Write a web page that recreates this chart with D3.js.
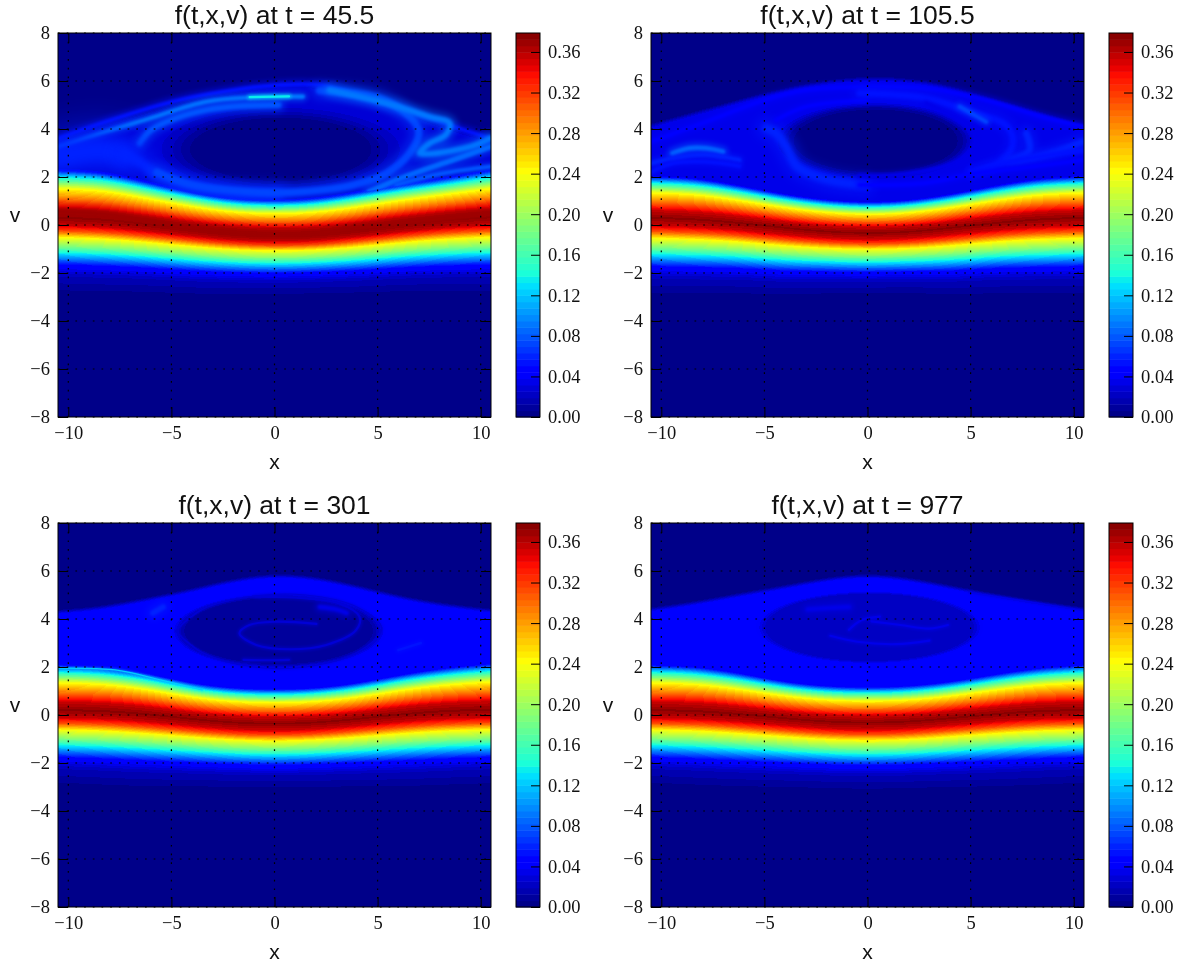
<!DOCTYPE html>
<html>
<head>
<meta charset="utf-8">
<script src="https://cdnjs.cloudflare.com/ajax/libs/d3/7.8.5/d3.min.js"></script>
<style>
body { margin: 0; background: #fff; }
#chart { position: relative; width: 1188px; height: 965px; overflow: hidden; }
canvas { position: absolute; }
svg { position: absolute; left: 0; top: 0; }
.tick text { font-family: "Liberation Serif", serif; font-size: 18.5px; fill: #111; }
.title { font-family: "Liberation Sans", sans-serif; font-size: 26.5px; fill: #111; text-anchor: middle; }
.label { font-family: "Liberation Sans", sans-serif; font-size: 21px; fill: #111; text-anchor: middle; }
</style>
</head>
<body>
<div id="chart"></div>
<script>
// values, v positions of each structure at every xGrid column
const xGrid = [-10.47, -8.38, -6.28, -4.19, -2.09, 0, 2.09, 4.19, 6.28, 8.38, 10.47];
const xTicks = [-10, -5, 0, 5, 10];
const vTicks = [-8, -6, -4, -2, 0, 2, 4, 6, 8];
const cbTicks = [0, 0.04, 0.08, 0.12, 0.16, 0.20, 0.24, 0.28, 0.32, 0.36];
const times = ["45.5", "105.5", "301", "977"];

// cross section of the hot band, u = distance from ridge / distance to the cyan edge
const upperU = [0, 0.2, 0.42, 0.68, 0.8, 0.95, 1.08, 1.2];
const upperF = [0.375, 0.355, 0.30, 0.24, 0.19, 0.13, 0.06, 0];
const lowerU = [0, 0.2, 0.37, 0.55, 0.78, 1, 1.3, 1.6, 2.05, 2.4];
const lowerF = [0.375, 0.355, 0.31, 0.24, 0.19, 0.13, 0.05, 0.02, 0.005, 0];

const ridge45 = [0.3, 0.25, 0.05, -0.15, -0.35, -0.42, -0.38, -0.2, 0.03, 0.22, 0.32];
const ridge105 = [0.3, 0.25, 0.1, -0.1, -0.28, -0.35, -0.3, -0.1, 0.1, 0.25, 0.3];
const ridge301 = [0.2, 0.18, 0.05, -0.15, -0.32, -0.38, -0.32, -0.15, 0.05, 0.18, 0.22];
const ridge977 = [0.2, 0.18, 0.05, -0.12, -0.28, -0.33, -0.28, -0.12, 0.05, 0.18, 0.2];

const top45 = [2.1, 2.05, 1.65, 1.25, 0.95, 0.88, 0.95, 1.25, 1.55, 1.8, 2.1];
const top105 = [1.85, 1.8, 1.5, 1.15, 0.9, 0.8, 0.88, 1.15, 1.5, 1.78, 1.85];
const top301 = [1.9, 1.85, 1.6, 1.2, 0.97, 0.92, 0.97, 1.2, 1.55, 1.8, 1.95];
const top977 = [1.9, 1.85, 1.6, 1.25, 1.05, 1.0, 1.05, 1.25, 1.55, 1.8, 1.9];

const bottom45 = [-1.2, -1.25, -1.35, -1.5, -1.6, -1.65, -1.6, -1.5, -1.35, -1.25, -1.2];
const bottom105 = [-1.25, -1.3, -1.35, -1.5, -1.55, -1.6, -1.55, -1.5, -1.35, -1.3, -1.25];
const bottom301 = [-1.3, -1.35, -1.45, -1.55, -1.65, -1.7, -1.65, -1.55, -1.45, -1.35, -1.3];
const bottom977 = [-1.3, -1.35, -1.45, -1.55, -1.65, -1.7, -1.65, -1.55, -1.45, -1.35, -1.3];

// upper edge of the trapped region
const edge45 = [3.7, 4.3, 4.8, 5.3, 5.7, 6.0, 6.0, 5.6, 4.9, 4.2, 3.7];
const edge105 = [4.3, 4.8, 5.3, 5.75, 6.1, 6.3, 6.2, 5.85, 5.3, 4.8, 4.25];
const edge301 = [4.45, 4.6, 4.95, 5.3, 5.75, 6.0, 5.85, 5.45, 5.0, 4.7, 4.5];
const edge977 = [4.55, 4.8, 5.15, 5.45, 5.8, 6.0, 5.8, 5.45, 5.1, 4.8, 4.55];

// the depleted hole in the middle of each panel, an oval
const holeCx = [0.3, 0.4, 0.2, 0.1];
const holeCv = [3.15, 3.5, 3.5, 3.65];
const holeRx = [6.0, 5.0, 5.3, 5.6];
const holeRy = [1.8, 1.65, 1.6, 1.55];
const holeSoft = [0.35, 0.22, 0.15, 0.12];

const plateau = [0.026, 0.035, 0.045, 0.045];
const holeLevel = [0.003, 0.006, 0.012, 0.023];

// thin filaments: [x, v] points, their f value and their thickness in v units
const strands45 = [
    [[-10.47, 3.61], [-8.17, 4.3], [-4.93, 5.14], [-2.5, 5.55], [0.2, 5.83], [2.18, 5.83], [4.61, 5.28], [6.55, 4.72], [8.66, 4.1], [10.47, 3.61]],
    [[-10.47, 3.24], [-8.17, 3.89], [-6.2, 4.4], [-3.3, 5.14], [-1.0, 5.32], [0.2, 5.35], [1.38, 5.35]],
    [[-1.2, 5.33], [0.7, 5.36]],
    [[-6.55, 3.40], [-6.0, 3.95], [-4.93, 4.4], [-3.3, 4.79], [-1.7, 4.95], [0.2, 5.0]],
    [[-10.47, 2.85], [-8.5, 3.1], [-7.3, 2.9]],
    [[-7.3, 2.95], [-6.5, 2.6], [-5.7, 2.1], [-4.1, 1.6], [-1.7, 1.3], [0.2, 1.3]],
    [[2.18, 5.6], [5.1, 5.28], [6.55, 4.51], [7.0, 3.89], [6.55, 2.99], [5.42, 2.15], [3.8, 1.67], [1.38, 1.39], [-0.24, 1.35], [-4.1, 1.7], [-5.7, 2.2]],
    [[2.67, 5.62], [5.42, 5.07], [7.52, 4.51], [8.5, 4.24], [8.3, 3.75], [7.52, 3.4], [7.04, 2.99], [9.5, 3.26], [10.47, 3.61]],
    [[4.61, 1.39], [6.55, 2.08], [8.66, 2.71], [10.47, 3.26]],
    [[5.9, 1.67], [8.17, 2.15], [10.47, 2.43]],
    [[-10.47, 0.55], [-8.4, 0.45], [-6.3, 0.2], [-4.2, -0.1], [-2.1, -0.3], [0, -0.4], [2.1, -0.35], [4.2, -0.1], [6.3, 0.1], [8.4, 0.3], [10.47, 0.5]]
];
const strandF45 = [0.055, 0.09, 0.135, 0.08, 0.06, 0.058, 0.07, 0.092, 0.088, 0.078, 0.372];
const strandW45 = [0.17, 0.17, 0.1, 0.24, 1.0, 0.4, 0.3, 0.24, 0.22, 0.16, 0.25];

const strands105 = [
    [[-10.5, 3.47], [-7.83, 4.3], [-5.03, 5.2], [-2.98, 5.62], [-0.07, 5.76], [2.85, 5.7], [5.76, 5.2], [8.51, 4.5], [10.47, 4.1]],
    [[-9.45, 2.98], [-8.64, 3.19], [-7.83, 3.19], [-7.02, 3.05]],
    [[-10.5, 2.57], [-9.45, 2.78], [-7.83, 2.92], [-6.21, 2.71]],
    [[-10.5, 2.2], [-9.45, 2.57], [-7.83, 2.63], [-6.21, 2.45]],
    [[-4.9, 4.03], [-4.43, 3.82], [-3.95, 3.26], [-3.4, 2.43], [-1.9, 1.88], [-0.07, 1.67]],
    [[-4.43, 4.37], [-2.98, 4.93], [-0.07, 5.2]],
    [[-0.39, 5.49], [2.85, 5.28], [4.95, 4.72], [6.7, 4.17], [7.06, 3.47], [6.57, 2.71], [5.1, 2.17]],
    [[4.47, 4.93], [5.76, 4.3]],
    [[2.85, 5.07], [4.8, 4.1], [5.2, 3.54], [4.47, 2.71], [2.0, 2.15], [-0.39, 2.04]],
    [[7.7, 3.82], [7.85, 3.1], [6.8, 2.64], [8.6, 2.92], [10.47, 3.47]],
    [[5.0, 2.2], [7.3, 2.71], [10.47, 3.1]],
    [[-0.39, 1.67], [2.85, 1.75], [5.2, 2.15], [7.7, 2.4], [10.47, 2.71]]
];
const strandF105 = [0.05, 0.085, 0.062, 0.055, 0.06, 0.045, 0.055, 0.075, 0.035, 0.062, 0.055, 0.048];
const strandW105 = [0.17, 0.2, 0.16, 0.14, 0.36, 0.14, 0.26, 0.16, 0.14, 0.26, 0.2, 0.16];

const strands301 = [
    [[-4.8, 3.5], [-3.5, 4.4], [-1, 4.95], [1.5, 5.0], [4, 4.5], [5.2, 3.6], [4, 2.6], [1.5, 2.0], [-1, 2.0], [-3.5, 2.6], [-4.8, 3.5]],
    [[2.03, 3.8], [0.07, 3.89], [-1.22, 3.75], [-1.7, 3.4], [-0.89, 2.92], [0.73, 2.74], [2.51, 2.92], [3.96, 3.54], [4.12, 4.1], [3.16, 4.65], [1.54, 4.86], [-0.89, 4.93]],
    [[-1.5, 2.3], [-0.4, 2.28], [0.7, 2.3]],
    [[-5.9, 4.25], [-5.4, 4.5]],
    [[6.0, 2.7], [7.1, 3.0]],
    [[2.2, 4.5], [3.0, 4.4], [3.5, 4.25]],
    [[-10.47, 1.95], [-7.5, 1.85], [-5.5, 1.45], [-3.5, 1.05]]
];
const strandF301 = [0.03, 0.029, 0.03, 0.06, 0.055, 0.033, 0.12];
const strandW301 = [0.05, 0.09, 0.09, 0.22, 0.1, 0.18, 0.05];

const strands977 = [
    [[-2.9, 4.4], [-2.0, 4.45], [-0.9, 4.5]],
    [[-1.8, 3.3], [-0.5, 3.05], [1.4, 2.95], [3.0, 3.1]],
    [[0.2, 3.9], [1.6, 3.75], [3.0, 3.6], [3.9, 3.75]],
    [[-0.9, 3.55], [-0.3, 3.95], [0.6, 4.1]],
    [[4.9, 5.1], [7.2, 4.8], [10.47, 4.35]]
];
const strandF977 = [0.034, 0.034, 0.035, 0.033, 0.036];
const strandW977 = [0.18, 0.09, 0.09, 0.09, 0.06];

const cbMax = 0.3787;
const levelCount = 60;

// jet colour map, channels against the fraction of the range
const jetPos = [0, 0.11, 0.125, 0.34, 0.35, 0.375, 0.64, 0.66, 0.89, 0.91, 1];
const jetR = [0, 0, 0, 0, 0, 0.1, 1, 1, 1, 0.91, 0.5];
const jetG = [0, 0, 0, 0.87, 0.9, 1, 1, 0.92, 0.05, 0, 0];
const jetB = [0.5, 1, 1, 1, 0.97, 0.85, 0.02, 0, 0, 0, 0];

const panels = [
    { ridge: ridge45, top: top45, bottom: bottom45, edge: edge45, strands: strands45, strandF: strandF45, strandW: strandW45 },
    { ridge: ridge105, top: top105, bottom: bottom105, edge: edge105, strands: strands105, strandF: strandF105, strandW: strandW105 },
    { ridge: ridge301, top: top301, bottom: bottom301, edge: edge301, strands: strands301, strandF: strandF301, strandW: strandW301 },
    { ridge: ridge977, top: top977, bottom: bottom977, edge: edge977, strands: strands977, strandF: strandF977, strandW: strandW977 }
];

const plotW = 433, plotH = 384, cbW = 24;
const lefts = [58, 651, 58, 651];
const tops = [33, 33, 523, 523];
const cbOffset = 458;

const chart = d3.select("#chart");
const svg = chart.append("svg").attr("width", 1188).attr("height", 965);

const xScale = d3.scaleLinear().domain([-10.5, 10.5]).range([0, plotW]);
const vScale = d3.scaleLinear().domain([-8, 8]).range([plotH, 0]);
const cbScale = d3.scaleLinear().domain([0, cbMax]).range([plotH, 0]);

const jetChannel = (vals) => d3.scaleLinear().domain(jetPos).range(vals).clamp(true);
const chR = jetChannel(jetR), chG = jetChannel(jetG), chB = jetChannel(jetB);
const step = cbMax / levelCount;

function jetRgb(f) {
    // contour style steps, the same ones the colorbar shows
    let q = Math.min(levelCount - 1, Math.max(0, Math.floor(f / step)));
    let t = (q + 0.5) / levelCount;
    return [chR(t) * 255, chG(t) * 255, chB(t) * 255];
}

const upper = d3.scaleLinear().domain(upperU).range(upperF).clamp(true);
const lower = d3.scaleLinear().domain(lowerU).range(lowerF).clamp(true);

function smooth(a) {
    a = Math.max(0, Math.min(1, a));
    return a * a * (3 - 2 * a);
}

// returns the band alone as a layer, it has to sit on top of the faint strands
function drawField(ctx, p, i) {
    let img = ctx.createImageData(plotW, plotH);
    let bandImg = ctx.createImageData(plotW, plotH);
    let ridge = d3.interpolateBasis(p.ridge), top = d3.interpolateBasis(p.top), bottom = d3.interpolateBasis(p.bottom);
    let edge = d3.interpolateBasis(p.edge);

    for (let col = 0; col < plotW; col++) {
        let t = (col + 0.5) / plotW;
        let x = xScale.invert(col + 0.5);
        let r = ridge(t), tp = top(t), bt = bottom(t), ed = edge(t);
        for (let row = 0; row < plotH; row++) {
            let v = vScale.invert(row + 0.5);
            let band = v >= r ? upper((v - r) / (tp - r)) : lower((r - v) / (r - bt));

            // trapped region between the band and its upper edge
            let level = 0;
            if (v > r) {
                let fade = smooth((ed - v) / 0.3);
                let d = 1 - Math.hypot((x - holeCx[i]) / holeRx[i], (v - holeCv[i]) / holeRy[i]);
                level = (plateau[i] + (holeLevel[i] - plateau[i]) * smooth(d / holeSoft[i])) * fade;
            }
            let c = jetRgb(Math.max(band, level));
            let k = (row * plotW + col) * 4;
            for (let n = 0; n < 3; n++) {
                img.data[k + n] = c[n];
                bandImg.data[k + n] = c[n];
            }
            img.data[k + 3] = 255;
            bandImg.data[k + 3] = 255 * smooth((band - 0.05) / 0.03);
        }
    }
    ctx.putImageData(img, 0, 0);

    let layer = document.createElement("canvas");
    layer.width = plotW;
    layer.height = plotH;
    layer.getContext("2d").putImageData(bandImg, 0, 0);
    return layer;
}

function drawStrands(ctx, p, keep) {
    let line = d3.line()
        .x(d => xScale(d[0]))
        .y(d => vScale(d[1]))
        .curve(d3.curveCatmullRom)
        .context(ctx);
    p.strands.forEach((pts, j) => {
        if (!keep(p.strandF[j])) return;
        let w = p.strandW[j] * 24;
        let c = jetRgb(p.strandF[j]);
        ctx.strokeStyle = "rgb(" + c.map(Math.round).join(",") + ")";
        ctx.lineCap = "round";
        // a wide faint halo first, then the core of the strand
        ctx.filter = "blur(" + Math.max(1, w * 0.6) + "px)";
        ctx.globalAlpha = 0.45;
        ctx.lineWidth = w * 2.4;
        ctx.beginPath();
        line(pts);
        ctx.stroke();
        ctx.filter = "blur(" + Math.max(0.7, w / 4) + "px)";
        ctx.globalAlpha = 1;
        ctx.lineWidth = w;
        ctx.beginPath();
        line(pts);
        ctx.stroke();
    });
    ctx.filter = "none";
}

panels.forEach((p, i) => {
    let left = lefts[i], tp = tops[i];

    let canvas = chart.insert("canvas", "svg")
        .attr("width", plotW).attr("height", plotH)
        .style("left", left + "px").style("top", tp + "px");
    let ctx = canvas.node().getContext("2d");
    let bandLayer = drawField(ctx, p, i);
    drawStrands(ctx, p, f => f < 0.1);
    ctx.drawImage(bandLayer, 0, 0);
    drawStrands(ctx, p, f => f >= 0.1);

    let g = svg.append("g").attr("transform", "translate(" + left + "," + tp + ")");

    // dotted grid
    g.selectAll(".gx").data(xTicks).enter().append("line")
        .attr("x1", d => xScale(d)).attr("x2", d => xScale(d))
        .attr("y1", 0).attr("y2", plotH)
        .attr("stroke", "#000").attr("stroke-width", 1.2).attr("stroke-dasharray", "1.7 7");
    g.selectAll(".gv").data(vTicks).enter().append("line")
        .attr("x1", 0).attr("x2", plotW)
        .attr("y1", d => vScale(d)).attr("y2", d => vScale(d))
        .attr("stroke", "#000").attr("stroke-width", 1.2).attr("stroke-dasharray", "1.7 7");

    // axes, ticks point inward on all four sides
    g.append("g").attr("transform", "translate(0," + plotH + ")")
        .call(d3.axisBottom(xScale).tickValues(xTicks).tickSizeInner(-10).tickSizeOuter(0).tickPadding(9));
    g.append("g")
        .call(d3.axisTop(xScale).tickValues(xTicks).tickSizeInner(-10).tickSizeOuter(0).tickFormat(""));
    g.append("g")
        .call(d3.axisLeft(vScale).tickValues(vTicks).tickSizeInner(-10).tickSizeOuter(0).tickPadding(8));
    g.append("g").attr("transform", "translate(" + plotW + ",0)")
        .call(d3.axisRight(vScale).tickValues(vTicks).tickSizeInner(-10).tickSizeOuter(0).tickFormat(""));
    g.append("rect").attr("width", plotW).attr("height", plotH)
        .attr("fill", "none").attr("stroke", "#000").attr("stroke-width", 1);

    g.append("text").attr("class", "title")
        .attr("x", plotW / 2).attr("y", -9)
        .text("f(t,x,v) at t = " + times[i]);
    g.append("text").attr("class", "label")
        .attr("x", plotW / 2).attr("y", plotH + 45)
        .attr("dy", "0.35em")
        .text("x");
    g.append("text").attr("class", "label")
        .attr("x", -43).attr("y", plotH / 2 - 10)
        .attr("dy", "0.35em")
        .text("v");

    // colorbar
    let cb = svg.append("g").attr("transform", "translate(" + (left + cbOffset) + "," + tp + ")");
    cb.selectAll("rect.level").data(d3.range(levelCount)).enter().append("rect")
        .attr("class", "level")
        .attr("x", 0).attr("width", cbW)
        .attr("y", d => cbScale((d + 1) * step))
        .attr("height", d => cbScale(d * step) - cbScale((d + 1) * step) + 0.5)
        .attr("fill", d => "rgb(" + jetRgb((d + 0.5) * step).map(Math.round).join(",") + ")");
    cb.append("g").attr("transform", "translate(" + cbW + ",0)")
        .call(d3.axisRight(cbScale).tickValues(cbTicks).tickSizeInner(-9).tickSizeOuter(0).tickPadding(8).tickFormat(d3.format(".2f")));
    cb.append("rect").attr("width", cbW).attr("height", plotH)
        .attr("fill", "none").attr("stroke", "#000").attr("stroke-width", 1);
});

svg.selectAll(".domain").remove();
</script>
</body>
</html>
